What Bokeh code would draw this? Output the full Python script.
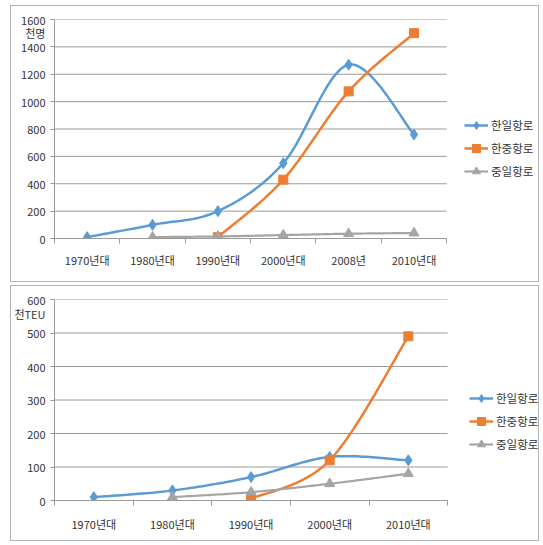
import numpy as np
from bokeh.plotting import figure
from bokeh.models import FixedTicker, Legend, LegendItem, Range1d
from bokeh.layouts import column
from bokeh.embed import file_html
from bokeh.resources import INLINE

# ---------------- data ----------------
series_names = ["한일항로", "한중항로", "중일항로"]

top_categories = ["1970년대", "1980년대", "1990년대", "2000년대", "2008년", "2010년대"]
top_kj = [10, 100, 200, 550, 1270, 760]
top_kc = [None, None, 10, 430, 1075, 1500]
top_cj = [None, 10, 15, 25, 35, 40]
top_yticks = [0, 200, 400, 600, 800, 1000, 1200, 1400, 1600]
top_unit = "천명"

bot_categories = ["1970년대", "1980년대", "1990년대", "2000년대", "2010년대"]
bot_kj = [10, 30, 70, 130, 120]
bot_kc = [None, None, 5, 120, 490]
bot_cj = [None, 10, 25, 50, 80]
bot_yticks = [0, 100, 200, 300, 400, 500, 600]
bot_unit = "천TEU"

# ---------------- style ----------------
COLORS = ["#5B9BD5", "#ED7D31", "#A5A5A5"]
MARKERS = ["diamond", "square", "triangle"]
MSIZES = [11, 9, 10]
LWIDTHS = [2.5, 2.5, 2.2]
FONT = "Noto Sans CJK KR"
GRID = "#9a9a9a"


def smooth(xs, ys, n=30):
    pts = np.array([(x, y) for x, y in zip(xs, ys) if y is not None], float)
    out = [pts[0]]
    t = np.linspace(0, 1, n)[1:]
    for i in range(len(pts) - 1):
        p0 = pts[i - 1] if i > 0 else pts[i]
        p1 = pts[i]
        p2 = pts[i + 1]
        p3 = pts[i + 2] if i + 2 < len(pts) else pts[i + 1]
        c1 = p1 + (p2 - p0) / 6.0
        c2 = p2 - (p3 - p1) / 6.0
        seg = (((1 - t) ** 3)[:, None] * p1 + (3 * (1 - t) ** 2 * t)[:, None] * c1
               + (3 * (1 - t) * t ** 2)[:, None] * c2 + (t ** 3)[:, None] * p2)
        out.extend(seg)
    out = np.array(out)
    return out[:, 0], out[:, 1]


def make_chart(cats, values, yticks, unit, width, height, bl, bt, bb,
               plot_w, leg_xy, margin, xstandoff, unit_px):
    n = len(cats)
    br = 0
    frame_w = width - bl - br
    x_end = n * frame_w / plot_w          # category area occupies plot_w pixels
    p = figure(width=width, height=height, x_range=Range1d(0, x_end),
               y_range=Range1d(yticks[0], yticks[-1]),
               output_backend="svg", toolbar_location=None,
               min_border_left=bl, min_border_top=bt, min_border_right=br,
               min_border_bottom=bb, margin=margin,
               styles={"border": "1px solid #b4b4b4"})
    p.outline_line_color = None
    p.background_fill_color = "white"
    p.border_fill_color = "white"

    centers = [i + 0.5 for i in range(n)]

    # x axis: labels at category centres, tick marks between categories
    xa = p.xaxis[0]
    xa.bounds = (0, n)
    xa.ticker = FixedTicker(ticks=centers, minor_ticks=list(range(n + 1)))
    xa.major_label_overrides = {c: lab for c, lab in zip(centers, cats)}
    xa.major_tick_out = 0
    xa.major_tick_in = 0
    xa.minor_tick_out = 5
    xa.minor_tick_in = 0
    xa.minor_tick_line_color = GRID
    xa.axis_line_color = GRID
    xa.major_label_standoff = xstandoff
    xa.major_label_text_font = FONT
    xa.major_label_text_font_size = "11px"
    xa.major_label_text_color = "#333333"

    # y axis: value ticks + unit caption just under the top tick
    frame_h = height - bt - bb
    unit_y = int(round(yticks[-1] - unit_px * (yticks[-1] - yticks[0]) / frame_h))
    ya = p.yaxis[0]
    ya.ticker = FixedTicker(ticks=yticks + [unit_y], minor_ticks=yticks)
    ya.major_label_overrides = {unit_y: unit}
    ya.major_tick_out = 0
    ya.major_tick_in = 0
    ya.minor_tick_out = 4
    ya.minor_tick_in = 0
    ya.minor_tick_line_color = GRID
    ya.axis_line_color = GRID
    ya.major_label_standoff = 5
    ya.major_label_text_font = FONT
    ya.major_label_text_font_size = "11px"
    ya.major_label_text_color = "#333333"

    # horizontal grid lines limited to the category area
    p.xgrid.grid_line_color = None
    p.ygrid.grid_line_color = None
    p.segment(x0=[0] * len(yticks), x1=[n] * len(yticks), y0=yticks, y1=yticks,
              line_color=GRID, line_width=1)

    items = []
    for name, vals, col, mk, ms, lw in zip(series_names, values, COLORS, MARKERS, MSIZES, LWIDTHS):
        sx, sy = smooth(centers, vals)
        lr = p.line(sx, sy, line_color=col, line_width=lw)
        px = [c for c, v in zip(centers, vals) if v is not None]
        py = [v for v in vals if v is not None]
        sr = p.scatter(px, py, marker=mk, size=ms, fill_color=col, line_color=col)
        items.append(LegendItem(label=name, renderers=[lr, sr]))

    legend = Legend(items=items, location=leg_xy, padding=0, margin=0,
                    spacing=3, glyph_width=24, glyph_height=20, label_height=20,
                    label_standoff=3, label_text_font=FONT,
                    label_text_font_size="11.5px", label_text_color="#333333",
                    border_line_color=None, background_fill_alpha=0)
    p.add_layout(legend)
    return p


p1 = make_chart(top_categories, [top_kj, top_kc, top_cj], top_yticks, top_unit,
                529, 277, 42, 13, 45, 393, (410, 57), (5, 0, 0, 10), 8, 13)
p2 = make_chart(bot_categories, [bot_kj, bot_kc, bot_cj], bot_yticks, bot_unit,
                529, 256, 37, 13, 42, 398, (415, 46), (3, 0, 0, 10), 10, 14)

layout = column(p1, p2, spacing=0)
open("out.html", "w").write(file_html(layout, INLINE))
